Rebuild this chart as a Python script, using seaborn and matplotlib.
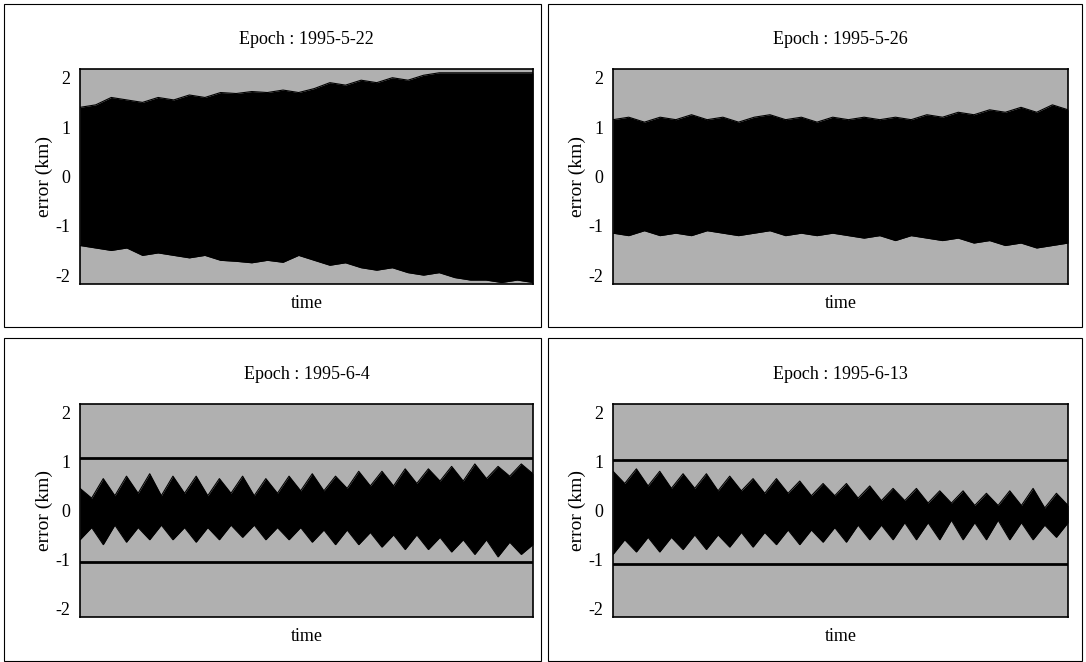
import numpy as np
import pandas as pd
import matplotlib
matplotlib.use("Agg")
import matplotlib.pyplot as plt
import seaborn as sns
from matplotlib.patches import Rectangle

# panel titles
epochs = ["1995-5-22", "1995-5-26", "1995-6-4", "1995-6-13"]

upper_0522 = [1.40, 1.45, 1.60, 1.55, 1.50, 1.60, 1.55, 1.65, 1.60, 1.70,
              1.68, 1.72, 1.70, 1.75, 1.70, 1.78, 1.90, 1.85, 1.95, 1.90,
              2.00, 1.95, 2.05, 2.10, 2.10, 2.10, 2.10, 2.10, 2.10, 2.10]
lower_0522 = [-1.40, -1.45, -1.50, -1.45, -1.60, -1.55, -1.60, -1.65, -1.60, -1.70,
              -1.72, -1.75, -1.70, -1.74, -1.60, -1.70, -1.80, -1.75, -1.85, -1.90,
              -1.85, -1.95, -2.00, -1.95, -2.05, -2.10, -2.10, -2.15, -2.10, -2.15]

upper_0526 = [1.15, 1.20, 1.10, 1.20, 1.15, 1.25, 1.15, 1.20, 1.10, 1.20,
              1.25, 1.15, 1.20, 1.10, 1.20, 1.15, 1.20, 1.15, 1.20, 1.15,
              1.25, 1.20, 1.30, 1.25, 1.35, 1.30, 1.40, 1.30, 1.45, 1.35]
lower_0526 = [-1.15, -1.20, -1.10, -1.20, -1.15, -1.20, -1.10, -1.15, -1.20, -1.15,
              -1.10, -1.20, -1.15, -1.20, -1.15, -1.20, -1.25, -1.20, -1.30, -1.20,
              -1.25, -1.30, -1.25, -1.35, -1.30, -1.40, -1.35, -1.45, -1.40, -1.35]

upper_0604 = [0.45, 0.25, 0.65, 0.30, 0.70, 0.35, 0.75, 0.30, 0.70, 0.35,
              0.70, 0.30, 0.65, 0.35, 0.70, 0.30, 0.65, 0.35, 0.70, 0.40,
              0.75, 0.40, 0.70, 0.45, 0.80, 0.50, 0.80, 0.50, 0.85, 0.55,
              0.85, 0.60, 0.90, 0.60, 0.95, 0.65, 0.90, 0.70, 0.95, 0.75]
lower_0604 = [-0.60, -0.35, -0.70, -0.30, -0.65, -0.35, -0.60, -0.30, -0.60, -0.35,
              -0.65, -0.35, -0.60, -0.30, -0.55, -0.30, -0.60, -0.35, -0.60, -0.35,
              -0.65, -0.40, -0.70, -0.40, -0.70, -0.45, -0.75, -0.50, -0.80, -0.50,
              -0.80, -0.55, -0.85, -0.60, -0.90, -0.60, -0.95, -0.65, -0.90, -0.70]

upper_0613 = [0.80, 0.55, 0.85, 0.50, 0.80, 0.45, 0.75, 0.45, 0.75, 0.40,
              0.70, 0.40, 0.65, 0.35, 0.65, 0.35, 0.60, 0.30, 0.55, 0.30,
              0.55, 0.25, 0.50, 0.20, 0.45, 0.20, 0.45, 0.15, 0.40, 0.15,
              0.40, 0.10, 0.35, 0.10, 0.40, 0.10, 0.45, 0.05, 0.35, 0.10]
lower_0613 = [-0.90, -0.60, -0.85, -0.55, -0.85, -0.55, -0.80, -0.50, -0.80, -0.50,
              -0.75, -0.45, -0.75, -0.45, -0.70, -0.40, -0.70, -0.40, -0.65, -0.35,
              -0.65, -0.30, -0.60, -0.30, -0.60, -0.25, -0.60, -0.25, -0.60, -0.20,
              -0.60, -0.25, -0.60, -0.20, -0.60, -0.25, -0.60, -0.30, -0.55, -0.25]

# error bounds drawn in the two lower panels
bounds_0604 = [1.07, -1.05]
bounds_0613 = [1.03, -1.10]

yticks = [-2, -1, 0, 1, 2]

panels = [
    (epochs[0], upper_0522, lower_0522, None),
    (epochs[1], upper_0526, lower_0526, None),
    (epochs[2], upper_0604, lower_0604, bounds_0604),
    (epochs[3], upper_0613, lower_0613, bounds_0613),
]

sns.set_style("white")
plt.rcParams['font.family'] = ['Liberation Serif', 'DejaVu Serif']
plt.rcParams['axes.unicode_minus'] = False
plt.rcParams['text.color'] = 'black'
plt.rcParams['axes.labelcolor'] = 'black'
plt.rcParams['ytick.color'] = 'black'

fig = plt.figure(figsize=(10.86, 6.62), dpi=100)

# axes rectangles [left, bottom, width, height] in figure fractions
rects = [
    [0.0737, 0.571, 0.417, 0.325],
    [0.5645, 0.571, 0.419, 0.325],
    [0.0737, 0.068, 0.417, 0.322],
    [0.5645, 0.068, 0.419, 0.322],
]

for (epoch, up, lo, bnd), r in zip(panels, rects):
    ax = fig.add_axes(r)
    df = pd.DataFrame({'t': np.arange(len(up)), 'upper': up, 'lower': lo})
    ax.set_facecolor('#b0b0b0')
    ax.fill_between(df['t'], df['lower'], df['upper'], color='black', lw=0)
    sns.lineplot(data=df, x='t', y='upper', color='black', lw=0.8, ax=ax)
    sns.lineplot(data=df, x='t', y='lower', color='black', lw=0.8, ax=ax)
    if bnd is not None:
        for b in bnd:
            ax.axhline(b, color='black', lw=2.0)
    ax.set_xlim(0, len(up) - 1)
    ax.set_ylim(-2.18, 2.18)
    ax.set_yticks(yticks)
    ax.set_xticks([])
    ax.tick_params(axis='y', length=0, pad=7, labelsize=13)
    ax.set_title('Epoch : ' + epoch, fontsize=13, pad=18)
    ax.set_xlabel('time', fontsize=13, labelpad=8)
    ax.set_ylabel('error (km)', fontsize=14, labelpad=2)
    for s in ax.spines.values():
        s.set_color('black')
        s.set_linewidth(1.2)

# thin frames around each panel
frames = [
    (0.0037, 0.506, 0.4945, 0.488),
    (0.5046, 0.506, 0.4917, 0.488),
    (0.0037, 0.0015, 0.4945, 0.4875),
    (0.5046, 0.0015, 0.4917, 0.4875),
]
for x0, y0, w, h in frames:
    fig.add_artist(Rectangle((x0, y0), w, h, transform=fig.transFigure,
                             fill=False, edgecolor='black', lw=0.8))

fig.savefig('out.png', dpi=100)
